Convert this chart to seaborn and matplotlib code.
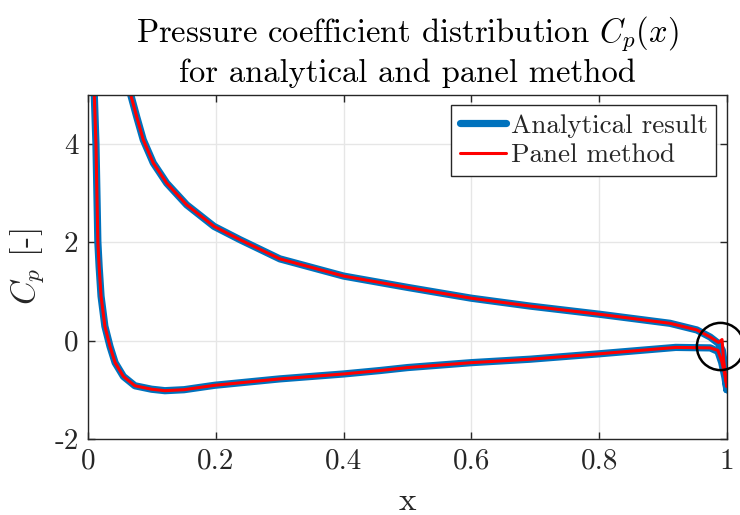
import numpy as np
import pandas as pd
import matplotlib
matplotlib.use("Agg")
import matplotlib.pyplot as plt
import seaborn as sns

# Cp along the airfoil contour: trailing edge -> lower surface -> leading edge -> upper surface -> trailing edge
x_analytical = [1.000, 0.997, 0.992, 0.986, 0.974, 0.920, 0.800, 0.692, 0.600, 0.500,
                0.457, 0.400, 0.300, 0.198, 0.150, 0.120, 0.099, 0.073, 0.055, 0.042,
                0.034, 0.026, 0.020, 0.017, 0.015, 0.0135, 0.012, 0.0094, 0.006, 0.020,
                0.058, 0.0664, 0.0758, 0.0861, 0.1018, 0.1228, 0.154, 0.197, 0.2376, 0.300,
                0.400, 0.500, 0.600, 0.692, 0.800, 0.911, 0.953, 0.974, 0.987, 0.993,
                0.997, 1.000]
cp_analytical = [-1.00, -0.75, -0.45, -0.22, -0.15, -0.14, -0.27, -0.38, -0.45, -0.55,
                 -0.61, -0.68, -0.78, -0.91, -1.00, -1.02, -0.99, -0.92, -0.73, -0.45,
                 -0.12, 0.29, 0.90, 1.50, 2.00, 3.00, 4.00, 5.00, 6.50, 9.00,
                 5.70, 5.00, 4.55, 4.08, 3.61, 3.20, 2.76, 2.32, 2.05, 1.66,
                 1.31, 1.08, 0.86, 0.70, 0.535, 0.35, 0.215, 0.07, -0.06, -0.20,
                 -0.55, -1.00]

x_panel = [1.000, 0.997, 0.992, 0.986, 0.974, 0.920, 0.800, 0.692, 0.600, 0.500,
           0.457, 0.400, 0.300, 0.198, 0.150, 0.120, 0.099, 0.073, 0.055, 0.042,
           0.034, 0.026, 0.020, 0.017, 0.015, 0.0135, 0.012, 0.0094, 0.006, 0.020,
           0.058, 0.0664, 0.0758, 0.0861, 0.1018, 0.1228, 0.154, 0.197, 0.2376, 0.300,
           0.400, 0.500, 0.600, 0.692, 0.800, 0.911, 0.953, 0.974, 0.987, 0.9925,
           0.995, 1.000]
cp_panel = [-0.93, -0.70, -0.42, -0.20, -0.15, -0.14, -0.27, -0.38, -0.45, -0.55,
            -0.61, -0.68, -0.78, -0.91, -1.00, -1.02, -0.99, -0.92, -0.73, -0.45,
            -0.12, 0.29, 0.90, 1.50, 2.00, 3.00, 4.00, 5.00, 6.50, 9.00,
            5.70, 5.00, 4.55, 4.08, 3.61, 3.20, 2.76, 2.32, 2.05, 1.66,
            1.31, 1.08, 0.86, 0.70, 0.535, 0.35, 0.215, 0.07, -0.04, 0.02,
            -0.40, -0.93]

x_ticks = [0, 0.2, 0.4, 0.6, 0.8, 1]
x_ticklabels = ["0", "0.2", "0.4", "0.6", "0.8", "1"]
y_ticks = [-2, 0, 2, 4]
y_ticklabels = ["-2", "0", "2", "4"]

# trailing-edge region highlighted with a circle
highlight_x, highlight_cp = 0.989, -0.116

sns.set_theme(style="whitegrid")
plt.rcParams.update({
    "font.family": ["cmr10", "DejaVu Serif"],
    "mathtext.fontset": "cm",
    "axes.unicode_minus": False,
    "axes.formatter.use_mathtext": False,
})

df_a = pd.DataFrame({"x": x_analytical, "cp": cp_analytical})
df_p = pd.DataFrame({"x": x_panel, "cp": cp_panel})

fig = plt.figure(figsize=(7.4, 5.15), dpi=100)
ax = fig.add_axes([0.1193, 0.1478, 0.8629, 0.6685])

sns.lineplot(data=df_a, x="x", y="cp", sort=False, estimator=None, ax=ax,
             color="#0072BD", linewidth=5.2, label="Analytical result",
             solid_joinstyle="round", solid_capstyle="round")
sns.lineplot(data=df_p, x="x", y="cp", sort=False, estimator=None, ax=ax,
             color="#FF0000", linewidth=2.2, label="Panel method",
             solid_joinstyle="round")

ax.plot([highlight_x], [highlight_cp], marker="o", markersize=34,
        markerfacecolor="none", markeredgecolor="black", markeredgewidth=1.8,
        clip_on=False, zorder=5)

ax.set_xlim(0, 1)
ax.set_ylim(-2, 5)
ax.set_xticks(x_ticks)
ax.set_xticklabels(x_ticklabels)
ax.set_yticks(y_ticks)
ax.set_yticklabels(y_ticklabels)

ax.grid(True, color="#e6e6e6", linewidth=1.0)
for side in ["left", "right", "top", "bottom"]:
    ax.spines[side].set_visible(True)
    ax.spines[side].set_color("#262626")
    ax.spines[side].set_linewidth(1.0)
ax.tick_params(direction="in", length=5, width=1.0, color="#262626",
               top=True, right=True, bottom=True, left=True,
               labelsize=21, labelcolor="#262626", pad=7)

ax.set_xlabel("x", fontsize=24, color="#262626", labelpad=9)
ax.set_ylabel(r"$C_p$ [-]", fontsize=24, color="#262626", labelpad=6)
ax.set_title("Pressure coefficient distribution $C_p(x)$\nfor analytical and panel method",
             fontsize=23.5, color="#000000", pad=9, linespacing=1.25)

leg = ax.legend(loc="upper right", fontsize=19.5, frameon=True, fancybox=False,
                edgecolor="#262626", framealpha=1, borderpad=0.3,
                handlelength=1.7, handletextpad=0.2, labelspacing=0.22,
                borderaxespad=0.4)
leg.get_frame().set_linewidth(1.0)

fig.savefig("out.png", dpi=100)
